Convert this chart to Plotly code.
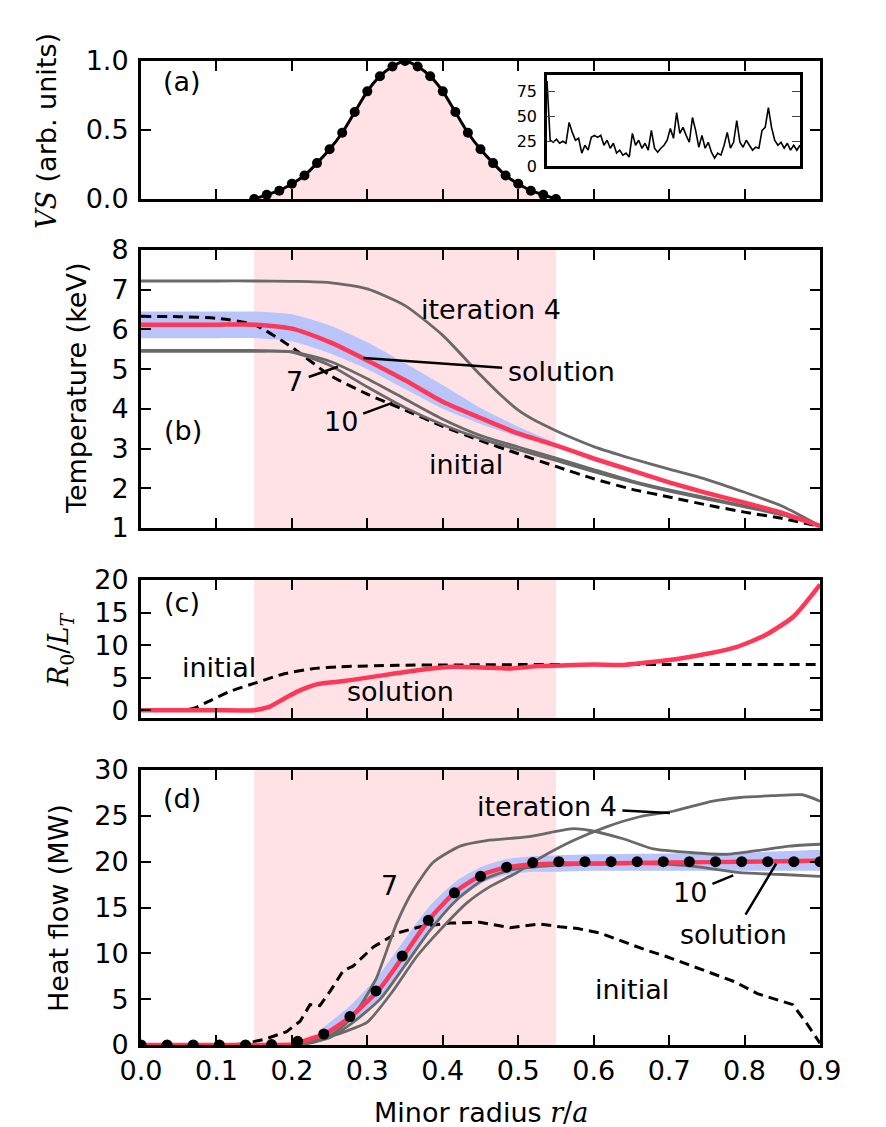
import plotly.graph_objects as go

# ---------------- data ----------------
# (a) volume source profile
r_a = [0.15, 0.1667, 0.1833, 0.2, 0.2167, 0.2333, 0.25, 0.2667, 0.2833, 0.3, 0.3167, 0.3333, 0.35,
       0.3667, 0.3833, 0.4, 0.4167, 0.4333, 0.45, 0.4667, 0.4833, 0.5, 0.5167, 0.5333, 0.55]
vs_a = [0.0, 0.03, 0.06, 0.11, 0.17, 0.26, 0.36, 0.48, 0.63, 0.78, 0.89, 0.96, 1.0,
        0.96, 0.89, 0.78, 0.63, 0.48, 0.36, 0.26, 0.17, 0.11, 0.06, 0.03, 0.0]
inset_vals = [86, 26, 24, 27, 23, 25, 23, 44, 34, 26, 28, 13, 21, 16, 29, 31, 29, 31, 21, 26,
              18, 23, 13, 16, 11, 13, 9, 33, 21, 26, 18, 23, 16, 36, 18, 14, 18, 21, 26, 38,
              28, 54, 33, 39, 31, 24, 49, 36, 19, 31, 18, 24, 14, 8, 13, 11, 21, 34, 18, 24,
              46, 24, 19, 26, 21, 16, 19, 18, 36, 39, 59, 39, 26, 21, 24, 18, 23, 16, 21, 16, 21]

# (b) temperature
r_b = [0.0, 0.05, 0.1, 0.15, 0.2, 0.25, 0.3, 0.35, 0.4, 0.45, 0.5, 0.55, 0.6, 0.65, 0.7, 0.75, 0.8, 0.85, 0.9]
r_b4 = [0.0, 0.05, 0.1, 0.15, 0.2, 0.25, 0.3, 0.35, 0.4, 0.45, 0.475, 0.5, 0.525, 0.55, 0.575, 0.6,
        0.65, 0.7, 0.75, 0.8, 0.85, 0.9]
T_it4 = [7.22, 7.22, 7.22, 7.22, 7.21, 7.18, 7.02, 6.6, 5.85, 4.85, 4.38, 3.97, 3.68, 3.45, 3.24, 3.05,
         2.75, 2.48, 2.22, 1.9, 1.55, 1.05]
T_sol = [6.12, 6.12, 6.12, 6.12, 6.02, 5.68, 5.22, 4.72, 4.18, 3.77, 3.38, 3.08, 2.75, 2.45, 2.15, 1.88, 1.64, 1.38, 1.05]
T_init = [6.33, 6.32, 6.28, 6.12, 5.55, 4.85, 4.37, 3.97, 3.56, 3.2, 2.87, 2.55, 2.24, 1.98, 1.78, 1.58, 1.4, 1.24, 1.04]
T_it7 = [5.47, 5.47, 5.47, 5.47, 5.44, 5.2, 4.76, 4.25, 3.74, 3.33, 3.04, 2.76, 2.47, 2.19, 1.96, 1.76, 1.56, 1.38, 1.05]
T_it10 = [5.45, 5.45, 5.45, 5.45, 5.43, 5.1, 4.55, 4.03, 3.6, 3.25, 2.97, 2.7, 2.42, 2.16, 1.93, 1.73, 1.53, 1.33, 1.05]
r_band_b = [0.0, 0.05, 0.1, 0.15, 0.2, 0.25, 0.3, 0.35, 0.4, 0.45, 0.5, 0.55]
T_band_hi = [6.45, 6.45, 6.45, 6.45, 6.38, 6.1, 5.68, 5.15, 4.6, 4.02, 3.55, 3.14]
T_band_lo = [5.78, 5.78, 5.78, 5.78, 5.7, 5.4, 5.0, 4.5, 4.0, 3.62, 3.3, 3.04]

# (c) R0/LT
r_c_sol = [0, 0.05, 0.1, 0.15, 0.17, 0.19, 0.21, 0.234, 0.264, 0.3, 0.34, 0.377, 0.414, 0.452, 0.49,
           0.527, 0.565, 0.6, 0.64, 0.677, 0.715, 0.752, 0.79, 0.827, 0.865, 0.9]
g_sol = [0, 0, 0, 0, 0.5, 1.8, 3.0, 4.0, 4.4, 5.0, 5.7, 6.3, 6.67, 6.56, 6.4,
         6.77, 6.92, 7.0, 6.95, 7.4, 7.95, 8.7, 9.74, 11.5, 14.4, 19.3]
r_c_init = [0, 0.05, 0.07, 0.089, 0.116, 0.152, 0.19, 0.227, 0.264, 0.34, 0.414, 0.5, 0.6, 0.7, 0.8, 0.9]
g_init = [0, 0, 0.3, 1.3, 2.8, 4.2, 5.6, 6.36, 6.67, 6.9, 6.95, 7.0, 7.0, 7.0, 7.0, 7.0]

# (d) heat flow
r_d_dots = [0.0, 0.0346, 0.0692, 0.1038, 0.1385, 0.1731, 0.2077, 0.2423, 0.2769, 0.3115, 0.3462,
            0.3808, 0.4154, 0.45, 0.4846, 0.5192, 0.5538, 0.5885, 0.6231, 0.6577, 0.6923,
            0.7269, 0.7615, 0.7962, 0.8308, 0.8654, 0.9]
Q_dots = [0, 0, 0, 0, 0, 0.05, 0.4, 1.2, 3.1, 5.9, 9.7, 13.6, 16.6, 18.4, 19.4, 19.9, 20.0,
          20.0, 20.0, 20.0, 20.0, 20.0, 20.0, 20.0, 20.0, 20.0, 20.0]
r_d_sol = [0, 0.1, 0.2, 0.211, 0.246, 0.281, 0.317, 0.352, 0.383, 0.418, 0.453, 0.485, 0.52, 0.555,
           0.6, 0.7, 0.8, 0.9]
Q_sol = [0, 0, 0.05, 0.3, 1.3, 3.3, 6.2, 10.2, 13.8, 16.8, 18.6, 19.4, 19.7, 19.8, 19.8, 19.9, 20.0, 20.1]
r_band_d = [0.24, 0.28, 0.317, 0.352, 0.383, 0.418, 0.453, 0.485, 0.52, 0.555, 0.6, 0.7, 0.8, 0.9]
Q_band_hi = [1.8, 4.5, 7.8, 11.8, 15.2, 17.9, 19.5, 20.3, 20.6, 20.7, 20.8, 20.9, 21.0, 21.3]
Q_band_lo = [0.8, 2.5, 5.0, 8.8, 12.4, 15.6, 17.7, 18.6, 18.9, 18.9, 19.0, 19.0, 19.0, 19.0]
r_d_it4 = [0, 0.2, 0.22, 0.25, 0.275, 0.3, 0.334, 0.365, 0.396, 0.432, 0.463, 0.498, 0.529, 0.573,
           0.617, 0.661, 0.705, 0.758, 0.794, 0.838, 0.877, 0.9]
Q_it4 = [0, 0, 0.3, 0.9, 1.6, 2.5, 5.9, 9.6, 12.5, 15.5, 17.3, 18.8, 20.4, 22.3,
         23.8, 24.9, 25.5, 26.6, 27.0, 27.2, 27.3, 26.6]
r_d_it7 = [0, 0.2, 0.23, 0.25, 0.27, 0.29, 0.312, 0.339, 0.361, 0.387, 0.423, 0.458, 0.511, 0.55,
           0.573, 0.595, 0.639, 0.679, 0.728, 0.776, 0.816, 0.86, 0.9]
Q_it7 = [0, 0, 0.3, 1.0, 2.2, 4.2, 7.3, 13.3, 16.9, 19.9, 21.7, 22.3, 22.7, 23.3,
         23.6, 23.4, 22.5, 21.4, 21.0, 20.8, 21.2, 21.7, 21.9]
r_d_it10 = [0, 0.2, 0.25, 0.28, 0.317, 0.35, 0.383, 0.418, 0.453, 0.49, 0.55, 0.65, 0.7, 0.741,
            0.794, 0.85, 0.9]
Q_it10 = [0, 0, 0.8, 2.4, 5.0, 8.7, 12.5, 15.8, 18.0, 19.1, 19.6, 19.8, 19.7, 19.4, 18.8, 18.6, 18.4]
r_d_init = [0, 0.1, 0.134, 0.163, 0.193, 0.211, 0.224, 0.237, 0.251, 0.268, 0.281, 0.308, 0.339,
            0.37, 0.41, 0.449, 0.489, 0.529, 0.555, 0.579, 0.609, 0.639, 0.668, 0.698, 0.728,
            0.757, 0.787, 0.817, 0.846, 0.864, 0.882, 0.9]
Q_init = [0, 0, 0.1, 0.6, 1.45, 2.6, 4.4, 4.3, 5.9, 8.1, 8.6, 10.7, 12.2,
          12.9, 13.3, 13.4, 12.8, 13.2, 12.9, 12.7, 12.2, 11.3, 10.4, 9.6, 8.7,
          7.8, 6.9, 5.6, 4.9, 4.4, 2.4, 0.2]

x_ticks = [0.0, 0.1, 0.2, 0.3, 0.4, 0.5, 0.6, 0.7, 0.8, 0.9]
x_ticklabels = ["0.0", "0.1", "0.2", "0.3", "0.4", "0.5", "0.6", "0.7", "0.8", "0.9"]

# ---------------- styles ----------------
PINK = "rgb(255,226,229)"
BLUE = "rgb(184,196,250)"
RED = "rgb(255,56,88)"
GRAY = "rgb(105,105,105)"
FONT = "DejaVu Sans"
FS = 27
SERIF = "font-family:'DejaVu Serif','Liberation Serif',serif"

fig = go.Figure()

def line(x, y, xa, ya, color="black", width=2.5, dash=None, shape="spline", mode="lines", **kw):
    fig.add_trace(go.Scatter(x=x, y=y, xaxis=xa, yaxis=ya, mode=mode,
                             line=dict(color=color, width=width, dash=dash, shape=shape,
                                       smoothing=0.6 if shape == "spline" else None),
                             showlegend=False, hoverinfo="skip", **kw))

# (a)
line(r_a, vs_a, "x", "y", width=3, mode="lines+markers", fill="tozeroy", fillcolor=PINK,
     marker=dict(color="black", size=10))
# inset
fig.add_trace(go.Scatter(x=list(range(len(inset_vals))), y=inset_vals, xaxis="x5", yaxis="y5",
                         mode="lines", line=dict(color="black", width=1.6),
                         showlegend=False, hoverinfo="skip"))

# (b)
line(r_band_b, T_band_hi, "x2", "y2", color="rgba(0,0,0,0)", width=0)
line(r_band_b, T_band_lo, "x2", "y2", color="rgba(0,0,0,0)", width=0, fill="tonexty", fillcolor=BLUE)
line(r_b, T_init, "x2", "y2", color="black", width=3, dash="10px,6px")
line(r_b4, T_it4, "x2", "y2", color=GRAY, width=2.8)
line(r_b, T_it7, "x2", "y2", color=GRAY, width=2.8)
line(r_b, T_it10, "x2", "y2", color=GRAY, width=2.8)
line(r_b, T_sol, "x2", "y2", color=RED, width=4.5)

# (c)
line(r_c_init, g_init, "x3", "y3", color="black", width=3, dash="10px,6px")
line(r_c_sol, g_sol, "x3", "y3", color=RED, width=4.5)

# (d)
line(r_band_d, Q_band_hi, "x4", "y4", color="rgba(0,0,0,0)", width=0)
line(r_band_d, Q_band_lo, "x4", "y4", color="rgba(0,0,0,0)", width=0, fill="tonexty", fillcolor=BLUE)
line(r_d_init, Q_init, "x4", "y4", color="black", width=3, dash="10px,6px", shape="linear")
line(r_d_it4, Q_it4, "x4", "y4", color=GRAY, width=2.8)
line(r_d_it7, Q_it7, "x4", "y4", color=GRAY, width=2.8)
line(r_d_it10, Q_it10, "x4", "y4", color=GRAY, width=2.8)
line(r_d_sol, Q_sol, "x4", "y4", color=RED, width=4.5)
fig.add_trace(go.Scatter(x=r_d_dots, y=Q_dots, xaxis="x4", yaxis="y4", mode="markers",
                         marker=dict(color="black", size=11), showlegend=False, hoverinfo="skip"))

# ---------------- layout ----------------
L, R, T, B = 141, 66, 61, 82
W, H = 886, 1127
ph = H - T - B
pw = W - L - R

def ydom(top_px, bot_px):
    return [(H - B - bot_px) / ph, (H - B - top_px) / ph]

def xdom(l_px, r_px):
    return [(l_px - L) / pw, (r_px - L) / pw]

frame = dict(showline=True, linewidth=3, linecolor="black", mirror="ticks", ticks="inside",
             ticklen=10, tickwidth=1.5, tickcolor="black", showgrid=False, zeroline=False,
             tickfont=dict(family=FONT, size=FS, color="black"))

def xax(anchor, show):
    return dict(frame, domain=[0, 1], range=[0, 0.9], anchor=anchor, tickvals=x_ticks,
                ticktext=x_ticklabels, showticklabels=show, ticklabelstandoff=0)

layout = dict(width=W, height=H, margin=dict(l=L, r=R, t=T, b=B),
              plot_bgcolor="white", paper_bgcolor="white", showlegend=False,
              font=dict(family=FONT, size=FS, color="black"))
layout["xaxis"] = xax("y", False)
layout["xaxis2"] = xax("y2", False)
layout["xaxis3"] = xax("y3", False)
layout["xaxis4"] = xax("y4", True)
layout["yaxis"] = dict(frame, domain=ydom(61, 199), range=[0, 1], anchor="x",
                       tickvals=[0, 0.5, 1.0], ticktext=["0.0", "0.5", "1.0"], ticklabelstandoff=4)
layout["yaxis2"] = dict(frame, domain=ydom(250, 528), range=[1, 8], anchor="x2",
                        tickvals=[1, 2, 3, 4, 5, 6, 7, 8], ticklabelstandoff=4)
layout["yaxis3"] = dict(frame, domain=ydom(580, 718), range=[-1.2, 20], anchor="x3",
                        tickvals=[0, 5, 10, 15, 20], ticklabelstandoff=4)
layout["yaxis4"] = dict(frame, domain=ydom(770, 1045), range=[0, 30], anchor="x4",
                        tickvals=[0, 5, 10, 15, 20, 25, 30], ticklabelstandoff=4)
# inset
layout["xaxis5"] = dict(domain=xdom(547, 800), range=[0, len(inset_vals) - 1], anchor="y5",
                        showline=True, linewidth=2.5, linecolor="black", mirror=True,
                        ticks="", showticklabels=False, showgrid=False, zeroline=False)
layout["yaxis5"] = dict(domain=ydom(75, 166), range=[0, 92], anchor="x5",
                        showline=True, linewidth=2.5, linecolor="black", mirror="ticks",
                        ticks="inside", ticklen=8, tickwidth=1.3, tickvals=[0, 25, 50, 75],
                        tickfont=dict(family=FONT, size=16, color="black"),
                        showgrid=False, zeroline=False, ticklabelstandoff=4)

shapes = []
for xr, yr in [("x2", "y2"), ("x3", "y3"), ("x4", "y4")]:
    shapes.append(dict(type="rect", xref=xr, yref=yr + " domain", x0=0.15, x1=0.55, y0=0, y1=1,
                       fillcolor=PINK, line=dict(width=0), layer="below"))
layout["shapes"] = shapes

ann = []

def txt(x, y, s, xr, yr, **kw):
    ann.append(dict(x=x, y=y, text=s, xref=xr, yref=yr, showarrow=False,
                    xanchor="center", yanchor="middle",
                    font=dict(family=FONT, size=FS, color="black"), **kw))

def arrow(x, y, ax, ay, s, xr, yr):
    ann.append(dict(x=x, y=y, ax=ax, ay=ay, text=s, xref=xr, yref=yr, axref=xr, ayref=yr,
                    showarrow=True, arrowhead=0, arrowwidth=2.5, arrowcolor="black",
                    standoff=0, startstandoff=4,
                    font=dict(family=FONT, size=FS, color="black")))

txt(0.055, 0.855, "(a)", "x", "y")
txt(0.056, 3.45, "(b)", "x2", "y2")
txt(0.464, 6.49, "iteration 4", "x2", "y2")
arrow(0.295, 5.28, 0.557, 4.93, "solution", "x2", "y2")
arrow(0.261, 5.06, 0.204, 4.68, "7", "x2", "y2")
arrow(0.333, 4.15, 0.265, 3.67, "10", "x2", "y2")
txt(0.431, 2.59, "initial", "x2", "y2")

txt(0.054, 16.5, "(c)", "x3", "y3")
txt(0.103, 6.5, "initial", "x3", "y3")
txt(0.344, 2.8, "solution", "x3", "y3")

txt(0.054, 26.9, "(d)", "x4", "y4")
arrow(0.701, 25.3, 0.538, 26.0, "iteration 4", "x4", "y4")
txt(0.33, 17.4, "7", "x4", "y4")
arrow(0.785, 18.5, 0.728, 16.6, "10", "x4", "y4")
arrow(0.842, 19.8, 0.785, 12.0, "solution", "x4", "y4")
txt(0.651, 6.0, "initial", "x4", "y4")

# axis titles
def ytitle(xpx, ypx, s):
    ann.append(dict(x=(xpx - L) / pw, y=(H - B - ypx) / ph, xref="paper", yref="paper",
                    xanchor="center", yanchor="middle",
                    text=s, textangle=-90, showarrow=False,
                    font=dict(family=FONT, size=FS, color="black")))

ytitle(46, 131, f"<span style=\"{SERIF}\"><i>VS</i></span> (arb. units)")
ytitle(76, 389, "Temperature (keV)")
ytitle(60, 650, f"<span style=\"{SERIF}\"><i>R</i><sub>0</sub>/<i>L</i><sub><i>T</i></sub></span>")
ytitle(58, 908, "Heat flow (MW)")
ann.append(dict(x=0.5, y=(H - B - 1112) / ph, xref="paper", yref="paper", showarrow=False,
                xanchor="center", yanchor="middle",
                text=f"Minor radius <span style=\"{SERIF}\"><i>r</i>/<i>a</i></span>",
                font=dict(family=FONT, size=FS, color="black")))
layout["annotations"] = ann

fig.update_layout(**layout)
fig.write_html("out.html", config={"displayModeBar": False})

# remove the default page margin so the figure sits at the window's top-left corner
with open("out.html", "r", encoding="utf-8") as f:
    html = f.read()
html = html.replace("<head>", "<head><style>html,body{margin:0;padding:0;}</style>", 1)
with open("out.html", "w", encoding="utf-8") as f:
    f.write(html)
